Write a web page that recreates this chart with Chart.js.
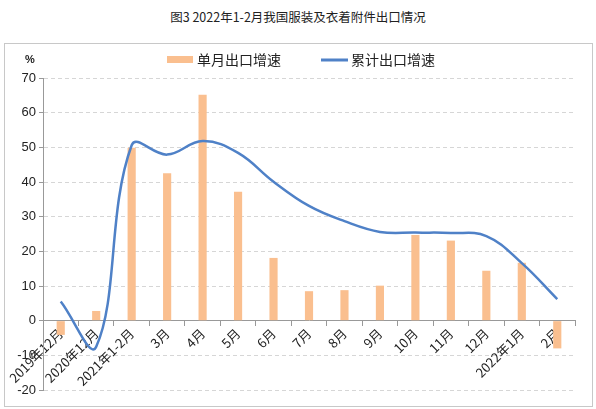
<!DOCTYPE html>
<html>
<head>
<meta charset="utf-8">
<script src="https://cdn.jsdelivr.net/npm/chart.js@4"></script>
<style>
  body { margin: 0; width: 596px; height: 409px; background: #fff; position: relative; overflow: hidden; }
  #title { position: absolute; left: 0; top: 7px; width: 596px; text-align: center; font: 12.5px "Noto Sans CJK SC", sans-serif; color: #222; }
  #box { position: absolute; left: 4px; top: 43px; width: 587px; height: 362px; border: 1px solid #c8c8c8; }
  #box canvas { display: block; }
</style>
</head>
<body>
<div id="title">图3 2022年1-2月我国服装及衣着附件出口情况</div>
<div id="box"><canvas id="chart" width="587" height="362"></canvas></div>
<script>
// 数据
const categories = ['2019年12月', '2020年12月', '2021年1-2月', '3月', '4月', '5月', '6月', '7月', '8月', '9月', '10月', '11月', '12月', '2022年1月', '2月'];
const monthlyGrowth = [-4.1, 2.8, 49.9, 42.5, 65.2, 37.2, 18.1, 8.5, 8.8, 10.1, 24.7, 23.1, 14.4, 16.7, -8.0];
const cumulativeGrowth = [5.5, -7.5, 50.6, 47.9, 51.8, 48.4, 40.1, 33.1, 28.7, 25.6, 25.4, 25.3, 24.4, 16.6, 6.2];
const yTicks = [-20, -10, 0, 10, 20, 30, 40, 50, 60, 70];

const barColor = '#FABF8F';
const lineColor = '#4F81C7';
const cjk = '"Noto Sans CJK SC", sans-serif';

// 图例和单位
const extras = {
    id: 'extras',
    afterDraw(chart) {
        const c = chart.ctx;
        c.save();
        c.fillStyle = '#222';
        c.font = 'bold 11px "Liberation Sans", Arial, sans-serif';
        c.textBaseline = 'middle';
        c.fillText('%', 20, 16);
        c.font = '14px ' + cjk;
        c.fillStyle = barColor; c.fillRect(162, 12, 26, 7);
        c.fillStyle = '#222'; c.fillText('单月出口增速', 192, 16);
        c.strokeStyle = lineColor; c.lineWidth = 3;
        c.beginPath(); c.moveTo(316, 16); c.lineTo(343, 16); c.stroke();
        c.fillText('累计出口增速', 346, 16);
        c.restore();
    }
};

new Chart(document.getElementById('chart'), {
    type: 'bar',
    data: {
        labels: categories,
        datasets: [
            { type: 'line', label: '累计出口增速', data: cumulativeGrowth, borderColor: lineColor, borderWidth: 2.5, pointRadius: 0, tension: 0.4, fill: false, order: 0, clip: false },
            { type: 'bar', label: '单月出口增速', data: monthlyGrowth, backgroundColor: barColor, barPercentage: 0.23, categoryPercentage: 1, order: 1 }
        ]
    },
    options: {
        responsive: false,
        animation: false,
        layout: { padding: { left: 0, right: 17, top: 34, bottom: 16 } },
        plugins: { legend: { display: false }, tooltip: { enabled: false } },
        scales: {
            x: {
                position: { y: 0 },
                offset: true,
                grid: { drawOnChartArea: false, offset: true, tickLength: 5, color: '#999' },
                border: { color: '#999', width: 1 },
                ticks: { minRotation: 45, maxRotation: 45, autoSkip: false, padding: 0, color: '#222', font: { size: 13, family: cjk } }
            },
            y: {
                min: -20, max: 70,
                afterFit(scale) { scale.width = 38; },
                afterBuildTicks(scale) { scale.ticks = yTicks.map(v => ({ value: v })); },
                grid: { color: '#d6d6d6', tickLength: 4, tickColor: '#999', drawTicks: true },
                border: { color: '#999', dash: [4, 3], display: true },
                ticks: { padding: 3, color: '#222', font: { size: 13, family: '"Liberation Sans", Arial, sans-serif' } }
            }
        }
    },
    plugins: [extras]
});
</script>
</body>
</html>
